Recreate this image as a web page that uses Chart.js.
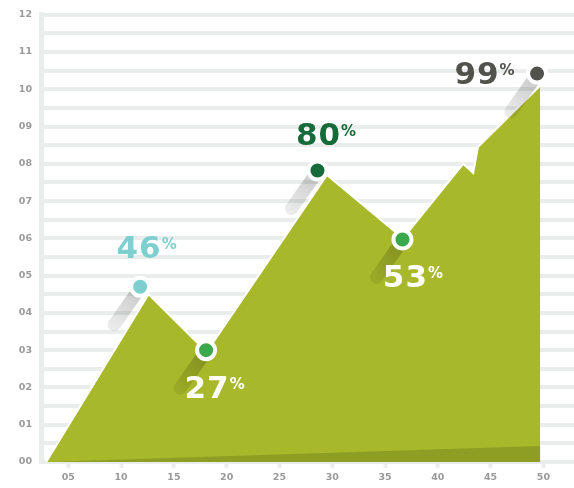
<!DOCTYPE html>
<html>
<head>
<meta charset="utf-8">
<script src="https://cdn.jsdelivr.net/npm/chart.js@4.4.1/dist/chart.umd.min.js"></script>
<style>
  html, body { margin: 0; padding: 0; background: #ffffff; }
  #wrap { width: 574px; height: 488px; }
</style>
</head>
<body>
<div id="wrap"><canvas id="chart" width="574" height="488"></canvas></div>
<script>
// data
const xTickValues = [5, 10, 15, 20, 25, 30, 35, 40, 45, 50];
const yTickValues = [0, 1, 2, 3, 4, 5, 6, 7, 8, 9, 10, 11, 12];

// area outline (x, y)
const areaX = [2.9, 12.6, 18.1, 29.5, 36.7, 42.4, 43.35, 43.8, 49.7];
const areaY = [0, 4.5, 2.95, 7.7, 6.0, 8.0, 7.75, 8.45, 10.1];

// darker band at bottom
const bandX = [2.9, 49.7];
const bandY = [0, 0.43];

// highlighted points
const pointLabels = ['46', '27', '80', '53', '99'];
const pointX = [11.8, 18.05, 28.6, 36.65, 49.4];
const pointY = [4.7, 3.0, 7.82, 5.97, 10.42];
const pointColors = ['#7ecfd0', '#3aa84b', '#176b3a', '#3aa84b', '#52524d'];

// label look (offset from marker: dx of text centre, dy of baseline)
const labelStyle = [
    { color: '#7ecfd0', dx: 7, dy: -29 },
    { color: '#ffffff', dx: 9, dy: 48 },
    { color: '#176b3a', dx: 9, dy: -26 },
    { color: '#ffffff', dx: 11, dy: 48 },
    { color: '#52524d', dx: -52, dy: 10 }
];

const olive = '#a7b82a';
const oliveDark = '#8e9e24';
const gridColor = '#ebeded';
const bigFont = '"DejaVu Sans", sans-serif';
const tickFont = '"DejaVu Sans", sans-serif';

const pad2 = v => String(v).padStart(2, '0');

// shadows under the pins
const pinShadows = {
    id: 'pinShadows',
    beforeDatasetDraw(chart, args) {
        if (args.index !== 0) return;
        const ctx = chart.ctx;
        const meta = chart.getDatasetMeta(0);
        ctx.save();
        meta.data.forEach(pt => {
            const g = ctx.createLinearGradient(pt.x, pt.y, pt.x - 30, pt.y + 42);
            g.addColorStop(0, 'rgba(0,0,0,0.22)');
            g.addColorStop(1, 'rgba(0,0,0,0.07)');
            ctx.strokeStyle = g;
            ctx.lineWidth = 13;
            ctx.lineCap = 'round';
            ctx.beginPath();
            ctx.moveTo(pt.x - 2, pt.y + 4);
            ctx.lineTo(pt.x - 26, pt.y + 38);
            ctx.stroke();
        });
        ctx.restore();
    }
};

// percent labels
const pinLabels = {
    id: 'pinLabels',
    afterDatasetsDraw(chart) {
        const ctx = chart.ctx;
        const meta = chart.getDatasetMeta(0);
        ctx.save();
        ctx.letterSpacing = '1px';
        meta.data.forEach((pt, i) => {
            const st = labelStyle[i];
            ctx.font = 'bold 31px ' + bigFont;
            const w = ctx.measureText(pointLabels[i]).width;
            ctx.font = 'bold 15px ' + bigFont;
            const pw = ctx.measureText('%').width;
            const left = pt.x + st.dx - (w + pw) / 2;
            const base = pt.y + st.dy;
            ctx.fillStyle = st.color;
            ctx.textBaseline = 'alphabetic';
            ctx.textAlign = 'left';
            ctx.font = 'bold 31px ' + bigFont;
            ctx.fillText(pointLabels[i], left, base);
            ctx.font = 'bold 15px ' + bigFont;
            ctx.fillText('%', left + w, base - 9);
        });
        ctx.restore();
    }
};

new Chart(document.getElementById('chart'), {
    type: 'scatter',
    data: {
        datasets: [
            {
                data: pointX.map((x, i) => ({ x: x, y: pointY[i] })),
                pointRadius: 9,
                pointBackgroundColor: pointColors,
                pointBorderColor: '#ffffff',
                pointBorderWidth: 4,
                showLine: false,
                order: 0
            },
            {
                data: bandX.map((x, i) => ({ x: x, y: bandY[i] })),
                showLine: true,
                fill: 'origin',
                backgroundColor: oliveDark,
                borderWidth: 0,
                pointRadius: 0,
                order: 1
            },
            {
                data: areaX.map((x, i) => ({ x: x, y: areaY[i] })),
                showLine: true,
                fill: 'origin',
                backgroundColor: olive,
                borderColor: '#ffffff',
                borderWidth: 2,
                pointRadius: 0,
                order: 2
            }
        ]
    },
    options: {
        responsive: false,
        animation: false,
        layout: { autoPadding: false, padding: { top: 14, right: 0, left: 0, bottom: 0 } },
        plugins: { legend: { display: false }, tooltip: { enabled: false } },
        scales: {
            x: {
                type: 'linear',
                min: 2.41,
                max: 52.9,
                afterBuildTicks: s => { s.ticks = xTickValues.map(v => ({ value: v })); },
                afterFit: s => {
                    s.height = 26;
                    s.paddingLeft = 0;
                    s.paddingRight = 0;
                },
                border: { display: false },
                grid: {
                    drawOnChartArea: false,
                    drawTicks: true,
                    tickLength: 6,
                    tickWidth: 4,
                    tickColor: gridColor
                },
                ticks: {
                    padding: 4,
                    color: '#9a9a9a',
                    font: { family: tickFont, size: 9.5, weight: 'bold' },
                    callback: v => pad2(v)
                }
            },
            y: {
                min: 0,
                max: 12,
                afterBuildTicks: s => {
                    const t = [];
                    yTickValues.forEach(v => {
                        t.push({ value: v });
                        if (v < 12) t.push({ value: v + 0.5 });
                    });
                    s.ticks = t;
                },
                afterFit: s => { s.width = 41; },
                border: { display: true, color: gridColor, width: 5 },
                grid: {
                    color: gridColor,
                    lineWidth: 4,
                    drawTicks: false
                },
                ticks: {
                    padding: 9,
                    color: '#9a9a9a',
                    font: { family: tickFont, size: 9.5, weight: 'bold' },
                    callback: v => (Number.isInteger(v) ? pad2(v) : '')
                }
            }
        }
    },
    plugins: [pinShadows, pinLabels]
});
</script>
</body>
</html>
